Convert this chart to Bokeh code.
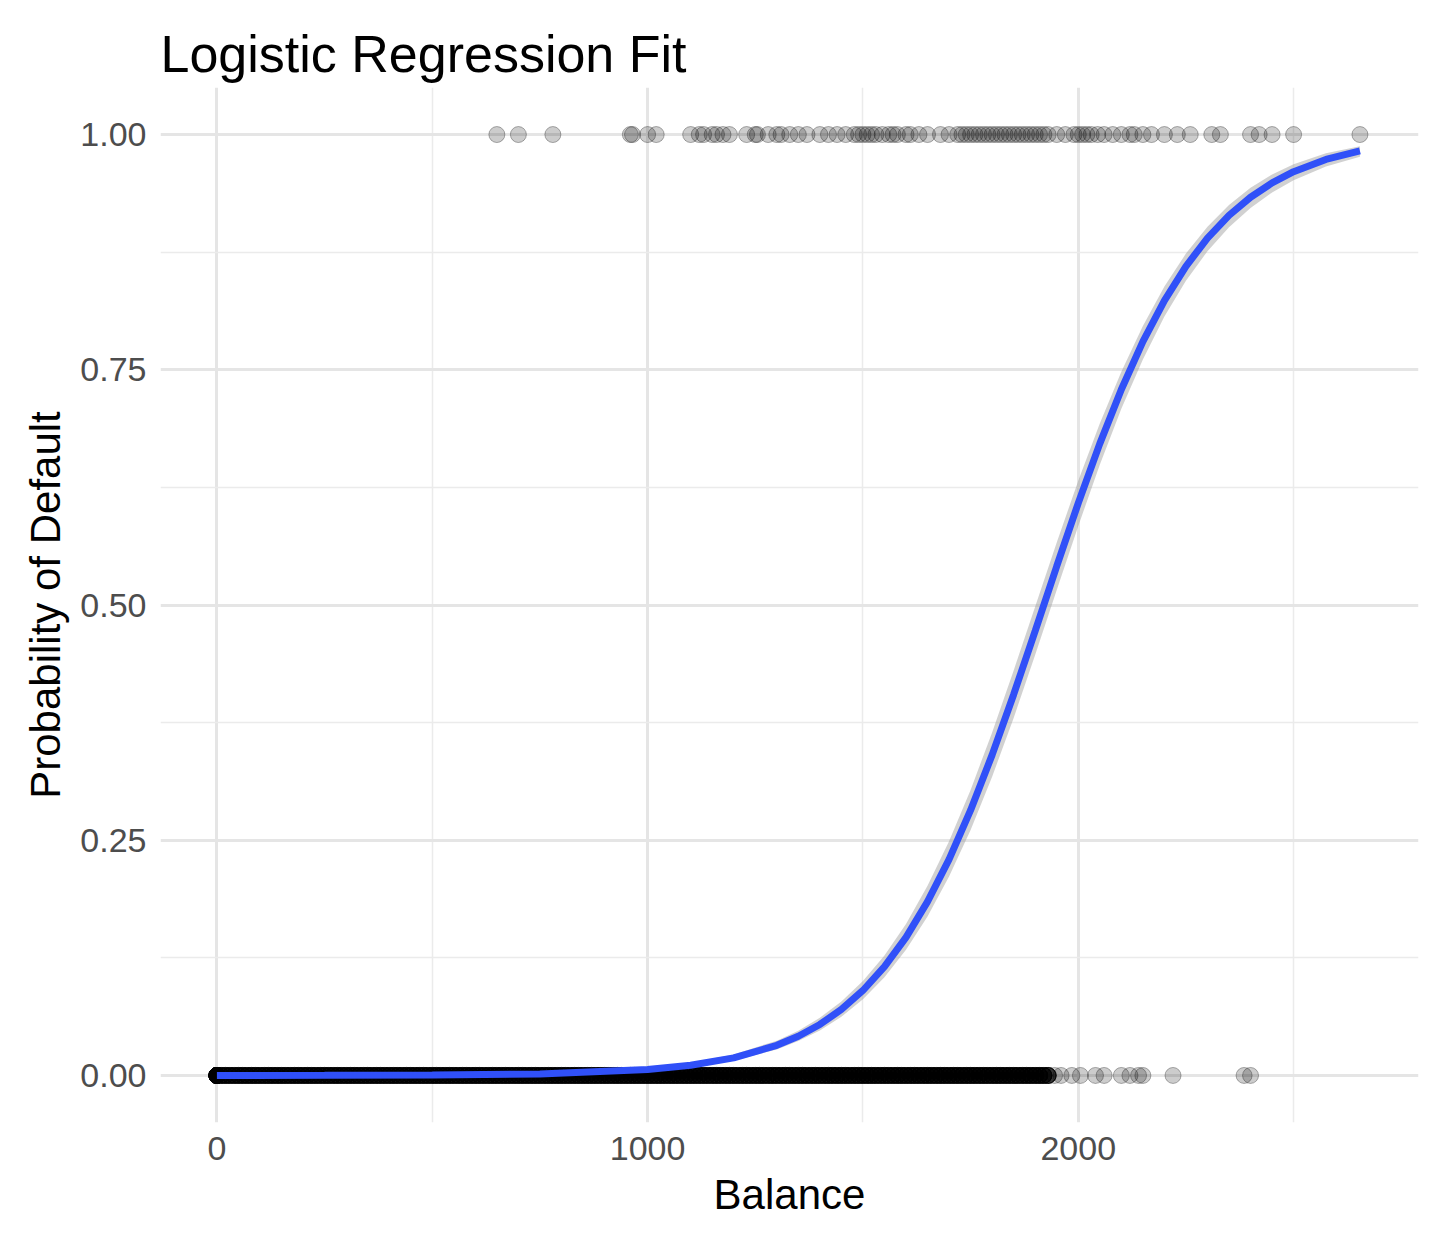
from bokeh.plotting import figure
from bokeh.models import Range1d, FixedTicker, ColumnDataSource
from bokeh.embed import file_html
from bokeh.resources import INLINE

# balances of customers that defaulted (y = 1)
default_bal = [650, 700, 780, 960, 965, 1000, 1020, 1100, 1120, 1130, 1150, 1160, 1175, 1190, 1230,
               1250, 1255, 1280, 1300, 1310, 1330, 1350, 1370, 1400, 1420, 1440, 1460, 1480, 1490,
               1500, 1510, 1520, 1530, 1545, 1560, 1570, 1580, 1600, 1610, 1630, 1650, 1680, 1700,
               1720, 1730, 1740, 1750, 1760, 1770, 1780, 1790, 1800, 1810, 1820, 1830, 1840, 1850,
               1860, 1870, 1880, 1890, 1900, 1910, 1920, 1930, 1950, 1970, 1990, 2000, 2010, 2020,
               2030, 2045, 2060, 2080, 2100, 2120, 2130, 2150, 2170, 2200, 2230, 2260, 2310, 2330,
               2400, 2420, 2450, 2500, 2654]
# balances of customers that did not default (y = 0)
nodefault_bal = [0, 0, 0, 0, 10, 20, 30, 40, 50, 60, 70, 80, 90, 100, 110, 120, 130, 140, 150, 160,
                 170, 180, 190, 200, 210, 220, 230, 240, 250, 260, 270, 280, 290, 300, 310, 320,
                 330, 340, 350, 360, 370, 380, 390, 400, 410, 420, 430, 440, 450, 460, 470, 480,
                 490, 500, 510, 520, 530, 540, 550, 560, 570, 580, 590, 600, 610, 620, 630, 640,
                 650, 660, 670, 680, 690, 700, 710, 720, 730, 740, 750, 760, 770, 780, 790, 800,
                 810, 820, 830, 840, 850, 860, 870, 880, 890, 900, 910, 920, 930, 940, 950, 960,
                 970, 980, 990, 1000, 1010, 1020, 1030, 1040, 1050, 1060, 1070, 1080, 1090, 1100,
                 1110, 1120, 1130, 1140, 1150, 1160, 1170, 1180, 1190, 1200, 1210, 1220, 1230,
                 1240, 1250, 1260, 1270, 1280, 1290, 1300, 1310, 1320, 1330, 1340, 1350, 1360,
                 1370, 1380, 1390, 1400, 1410, 1420, 1430, 1440, 1450, 1460, 1470, 1480, 1490,
                 1500, 1510, 1520, 1530, 1540, 1550, 1560, 1570, 1580, 1590, 1600, 1610, 1620,
                 1630, 1640, 1650, 1660, 1670, 1680, 1690, 1700, 1710, 1720, 1730, 1740, 1750,
                 1760, 1770, 1780, 1790, 1800, 1810, 1820, 1830, 1840, 1850, 1860, 1870, 1880,
                 1890, 1900, 1910, 1920, 1930]
nodefault_sparse = [1945, 1960, 1985, 2005, 2040, 2060, 2100, 2120, 2140, 2150, 2220, 2385, 2400]

# fitted curve and confidence band
fit_x = [0, 250, 500, 750, 1000, 1100, 1200, 1300, 1350, 1400, 1450, 1500, 1550, 1600, 1650,
         1700, 1750, 1800, 1850, 1900, 1950, 2000, 2050, 2100, 2150, 2200, 2250, 2300, 2350,
         2400, 2450, 2500, 2575, 2654]
fit_y = [0.0000, 0.0001, 0.0004, 0.0016, 0.0063, 0.0109, 0.0187, 0.0320, 0.0417, 0.0542,
         0.0701, 0.0903, 0.1156, 0.1468, 0.1847, 0.2297, 0.2819, 0.3407, 0.4049, 0.4725,
         0.5412, 0.6083, 0.6715, 0.7291, 0.7799, 0.8235, 0.8600, 0.8899, 0.9141, 0.9334,
         0.9486, 0.9605, 0.9735, 0.9826]
fit_lo = [0.0000, 0.0000, 0.0002, 0.0010, 0.0048, 0.0087, 0.0156, 0.0277, 0.0365, 0.0478,
          0.0624, 0.0810, 0.1045, 0.1335, 0.1690, 0.2115, 0.2610, 0.3175, 0.3800, 0.4470,
          0.5160, 0.5840, 0.6490, 0.7085, 0.7610, 0.8065, 0.8445, 0.8760, 0.9015, 0.9220,
          0.9385, 0.9515, 0.9660, 0.9765]
fit_hi = [0.0000, 0.0002, 0.0007, 0.0024, 0.0082, 0.0136, 0.0224, 0.0370, 0.0475, 0.0612,
          0.0785, 0.1005, 0.1275, 0.1610, 0.2015, 0.2490, 0.3035, 0.3645, 0.4305, 0.4985,
          0.5665, 0.6320, 0.6930, 0.7480, 0.7965, 0.8385, 0.8735, 0.9020, 0.9250, 0.9435,
          0.9575, 0.9685, 0.9800, 0.9875]

p = figure(width=1424, height=1240, output_backend="svg", toolbar_location=None,
           x_range=Range1d(-131, 2790), y_range=Range1d(-0.05, 1.05),
           min_border_left=160, min_border_right=6, min_border_top=87, min_border_bottom=118)
p.outline_line_color = None
p.title.text = "Logistic Regression Fit"
p.title.text_font = "Liberation Sans"
p.title.text_font_size = "52px"
p.title.text_font_style = "normal"
p.title.text_color = "black"
p.title.offset = 0

zeros = nodefault_bal * 6 + nodefault_sparse
p.scatter(zeros, [0] * len(zeros), size=16, fill_color="black", fill_alpha=0.2,
          line_color="black", line_alpha=0.3)
p.scatter(default_bal, [1] * len(default_bal), size=16, fill_color="black", fill_alpha=0.2,
          line_color="black", line_alpha=0.3)

src = ColumnDataSource(dict(x=fit_x, y=fit_y, lo=fit_lo, hi=fit_hi))
p.varea(x="x", y1="lo", y2="hi", source=src, fill_color="#999999", fill_alpha=0.45)
p.line(x="x", y="y", source=src, line_color="#3050F8", line_width=7)

p.xaxis.ticker = FixedTicker(ticks=[0, 1000, 2000], minor_ticks=[500, 1500, 2500])
p.yaxis.ticker = FixedTicker(ticks=[0, 0.25, 0.5, 0.75, 1.0],
                             minor_ticks=[0.125, 0.375, 0.625, 0.875])
p.yaxis.major_label_overrides = {0: "0.00", 0.25: "0.25", 0.5: "0.50", 0.75: "0.75", 1.0: "1.00"}
p.xaxis.axis_label = "Balance"
p.yaxis.axis_label = "Probability of Default"
for ax in (p.xaxis, p.yaxis):
    ax.axis_line_color = None
    ax.major_tick_line_color = None
    ax.minor_tick_line_color = None
    ax.major_label_text_font = "Liberation Sans"
    ax.major_label_text_font_size = "34px"
    ax.major_label_text_color = "#4D4D4D"
    ax.axis_label_text_font = "Liberation Sans"
    ax.axis_label_text_font_size = "42px"
    ax.axis_label_text_font_style = "normal"
    ax.axis_label_text_color = "black"
    ax.major_label_standoff = 8
    ax.axis_label_standoff = 8
p.grid.grid_line_color = "#E5E5E5"
p.grid.grid_line_width = 3
p.grid.minor_grid_line_color = "#EBEBEB"
p.grid.minor_grid_line_width = 1.5

open("out.html", "w").write(file_html(p, INLINE))
